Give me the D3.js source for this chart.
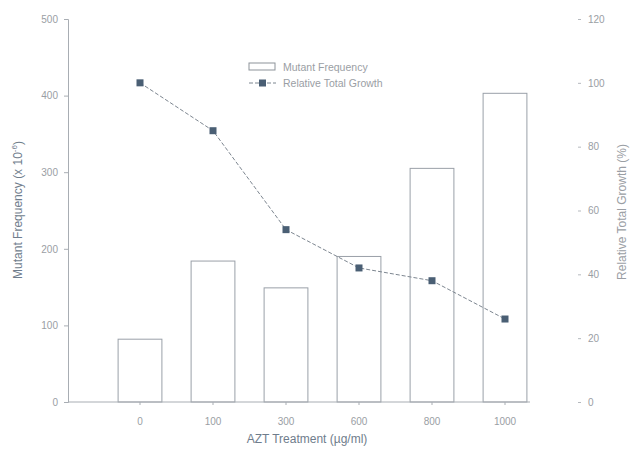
<!DOCTYPE html>
<html>
<head>
<meta charset="utf-8">
<script src="https://cdn.jsdelivr.net/npm/d3@7"></script>
<style>
  html, body { margin: 0; padding: 0; background: #fff; }
  svg { display: block; font-family: "Liberation Sans", Arial, sans-serif; }
</style>
</head>
<body>
<svg id="chart" width="635" height="451"></svg>
<script>
// AZT dose groups and measured responses
const doses = ["0", "100", "300", "600", "800", "1000"];
const mutantFrequency = [82, 184, 149, 190, 305, 403];
const relativeGrowth = [100, 85, 54, 42, 38, 26];
const leftTicks = [0, 100, 200, 300, 400, 500];
const rightTicks = [0, 20, 40, 60, 80, 100, 120];

const svg = d3.select("#chart");
const plotTop = 19, plotBottom = 402, leftX = 68, rightX = 578;

const x = d3.scaleBand().domain(doses).range([103.5, 541.5]).paddingInner(0.4).paddingOuter(0.2);
const yL = d3.scaleLinear().domain([0, 500]).range([plotBottom, plotTop]);
const yR = d3.scaleLinear().domain([0, 120]).range([plotBottom, plotTop]);

const textCol = "#9a9ea4";
const titleCol = "#6f7d8c";

// Bars: mutant frequency
svg.append("g").selectAll("rect").data(doses).join("rect")
  .attr("x", d => x(d))
  .attr("y", (d, i) => yL(mutantFrequency[i]))
  .attr("width", x.bandwidth())
  .attr("height", (d, i) => plotBottom - yL(mutantFrequency[i]))
  .attr("fill", "#fff")
  .attr("stroke", "#9aa0a8")
  .attr("stroke-width", 1);

// Left axis
const gL = svg.append("g").attr("transform", `translate(${leftX},0)`)
  .call(d3.axisLeft(yL).tickValues(leftTicks).tickSize(4).tickPadding(6));
gL.select(".domain").attr("stroke", "#a8adb3");
gL.selectAll(".tick line").attr("stroke", "#a8adb3");
gL.selectAll("text").attr("fill", textCol).attr("font-size", 10);

// Right axis (ticks and labels only)
const gR = svg.append("g").attr("transform", `translate(${rightX},0)`)
  .call(d3.axisRight(yR).tickValues(rightTicks).tickSize(3).tickPadding(7));
gR.select(".domain").remove();
gR.selectAll(".tick line").attr("stroke", "#b5b9be");
gR.selectAll("text").attr("fill", textCol).attr("font-size", 10);

// Bottom axis
const gB = svg.append("g").attr("transform", `translate(0,${plotBottom})`)
  .call(d3.axisBottom(x).tickSize(3).tickPadding(13));
gB.select(".domain").attr("d", `M${leftX},0H530`).attr("stroke", "#a8adb3");
gB.selectAll(".tick line").attr("stroke", "#a8adb3");
gB.selectAll("text").attr("fill", textCol).attr("font-size", 10);

// Relative total growth line
const line = d3.line()
  .x((d, i) => x(doses[i]) + x.bandwidth() / 2)
  .y(d => yR(d));
svg.append("path").datum(relativeGrowth)
  .attr("d", line)
  .attr("fill", "none")
  .attr("stroke", "#7d8690")
  .attr("stroke-width", 1)
  .attr("stroke-dasharray", "4,2");
svg.append("g").selectAll("rect").data(relativeGrowth).join("rect")
  .attr("x", (d, i) => x(doses[i]) + x.bandwidth() / 2 - 3.5)
  .attr("y", d => yR(d) - 3.5)
  .attr("width", 7).attr("height", 7)
  .attr("fill", "#4a5f74");

// Axis titles
svg.append("text")
  .attr("transform", "translate(22,210) rotate(-90)")
  .attr("text-anchor", "middle")
  .attr("fill", titleCol).attr("font-size", 12)
  .html('Mutant Frequency (x 10<tspan dy="-5" font-size="8">-6</tspan><tspan dy="5">)</tspan>');
svg.append("text")
  .attr("transform", "translate(626,212) rotate(-90)")
  .attr("text-anchor", "middle")
  .attr("fill", textCol).attr("font-size", 12)
  .text("Relative Total Growth (%)");
svg.append("text")
  .attr("x", 307).attr("y", 443)
  .attr("text-anchor", "middle")
  .attr("fill", titleCol).attr("font-size", 12)
  .text("AZT Treatment (µg/ml)");

// Legend
const lg = svg.append("g");
lg.append("rect").attr("x", 249).attr("y", 63).attr("width", 26).attr("height", 7)
  .attr("fill", "#fff").attr("stroke", "#8d939a");
lg.append("text").attr("x", 283).attr("y", 71).attr("fill", textCol).attr("font-size", 10.5)
  .text("Mutant Frequency");
lg.append("line").attr("x1", 249).attr("x2", 276).attr("y1", 83).attr("y2", 83)
  .attr("stroke", "#7d8690").attr("stroke-dasharray", "4,2");
lg.append("rect").attr("x", 259).attr("y", 79.5).attr("width", 7).attr("height", 7).attr("fill", "#4a5f74");
lg.append("text").attr("x", 283).attr("y", 87).attr("fill", textCol).attr("font-size", 10.5)
  .text("Relative Total Growth");
</script>
</body>
</html>
